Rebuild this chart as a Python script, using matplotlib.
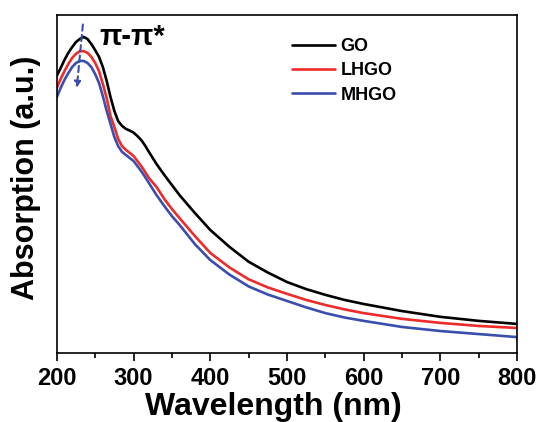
import matplotlib
matplotlib.use("Agg")
import matplotlib.pyplot as plt
from matplotlib.ticker import MultipleLocator

plt.rcParams['font.family'] = ['Liberation Sans', 'DejaVu Sans']
plt.rcParams['font.weight'] = 'bold'

wavelength = [200, 205, 210, 215, 220, 225, 230, 235, 240, 245, 250, 255, 260, 265, 270,
              275, 280, 285, 290, 295, 300, 305, 310, 315, 320, 330, 340, 350, 360,
              380, 400, 425, 450, 475, 500, 525, 550, 575, 600, 650, 700, 750, 800]
go = [0.820, 0.843, 0.867, 0.888, 0.905, 0.920, 0.929, 0.935, 0.929, 0.914, 0.896, 0.876,
      0.846, 0.805, 0.757, 0.716, 0.686, 0.672, 0.663, 0.658, 0.652, 0.642, 0.630, 0.614,
      0.595, 0.559, 0.527, 0.497, 0.467,
      0.414, 0.364, 0.314, 0.270, 0.238, 0.210, 0.189, 0.172, 0.157, 0.145, 0.124,
      0.107, 0.095, 0.086]
lhgo = [0.784, 0.811, 0.834, 0.855, 0.873, 0.885, 0.893, 0.893, 0.888, 0.876, 0.858, 0.834,
        0.796, 0.754, 0.701, 0.669, 0.633, 0.612, 0.601, 0.592, 0.583, 0.568, 0.553, 0.536,
        0.518, 0.491, 0.456, 0.426, 0.399,
        0.346, 0.296, 0.253, 0.218, 0.194, 0.175, 0.157, 0.142, 0.129, 0.118, 0.101,
        0.089, 0.080, 0.074]
mhgo = [0.757, 0.784, 0.808, 0.828, 0.846, 0.858, 0.864, 0.864, 0.858, 0.846, 0.825, 0.799,
        0.760, 0.716, 0.678, 0.639, 0.612, 0.595, 0.586, 0.577, 0.568, 0.553, 0.538, 0.521,
        0.503, 0.467, 0.435, 0.405, 0.379,
        0.322, 0.275, 0.232, 0.197, 0.173, 0.154, 0.135, 0.118, 0.105, 0.095, 0.077,
        0.065, 0.056, 0.047]
series_names = ['GO', 'LHGO', 'MHGO']
colors = ['#000000', '#ee2b2b', '#3b4eae']

fig = plt.figure(figsize=(5.41, 4.22), dpi=100)
ax = fig.add_axes([0.105, 0.1635, 0.851, 0.801])

for vals, name, c in zip([go, lhgo, mhgo], series_names, colors):
    ax.plot(wavelength, vals, color=c, lw=1.9, label=name,
            solid_joinstyle='round', solid_capstyle='round')

ax.set_xlim(200, 800)
ax.set_ylim(0, 1)
ax.xaxis.set_major_locator(MultipleLocator(100))
ax.xaxis.set_minor_locator(MultipleLocator(50))
ax.set_yticks([])
ax.tick_params(axis='x', which='major', direction='out', length=6, width=1.2,
               labelsize=17, pad=4)
ax.tick_params(axis='x', which='minor', direction='out', length=3.5, width=1.2)
for lab in ax.get_xticklabels():
    lab.set_fontweight('bold')
for s in ax.spines.values():
    s.set_linewidth(1.2)

ax.set_xlabel('Wavelength (nm)', fontsize=23, fontweight='bold')
ax.xaxis.set_label_coords(0.47, -0.115)
ax.set_ylabel('Absorption (a.u.)', fontsize=22, fontweight='bold')
ax.yaxis.set_label_coords(-0.035, 0.518)

# dashed arrow for the pi-pi* peak shift
ax.annotate('', xy=(226, 0.784), xytext=(234, 0.972),
            arrowprops=dict(arrowstyle='-|>', linestyle=(0, (3, 2)), color='#3b4eae',
                            lw=1.5, mutation_scale=9, shrinkA=0, shrinkB=0))
ax.text(256, 0.935, 'π-π*', fontsize=21, fontweight='bold', va='center', ha='left')

leg = ax.legend(loc='upper left', bbox_to_anchor=(0.495, 0.953), frameon=False,
                prop={'size': 13, 'weight': 'bold'}, handlelength=2.4,
                handletextpad=0.28, labelspacing=0.4, borderaxespad=0)

fig.savefig('out.png', dpi=100)
